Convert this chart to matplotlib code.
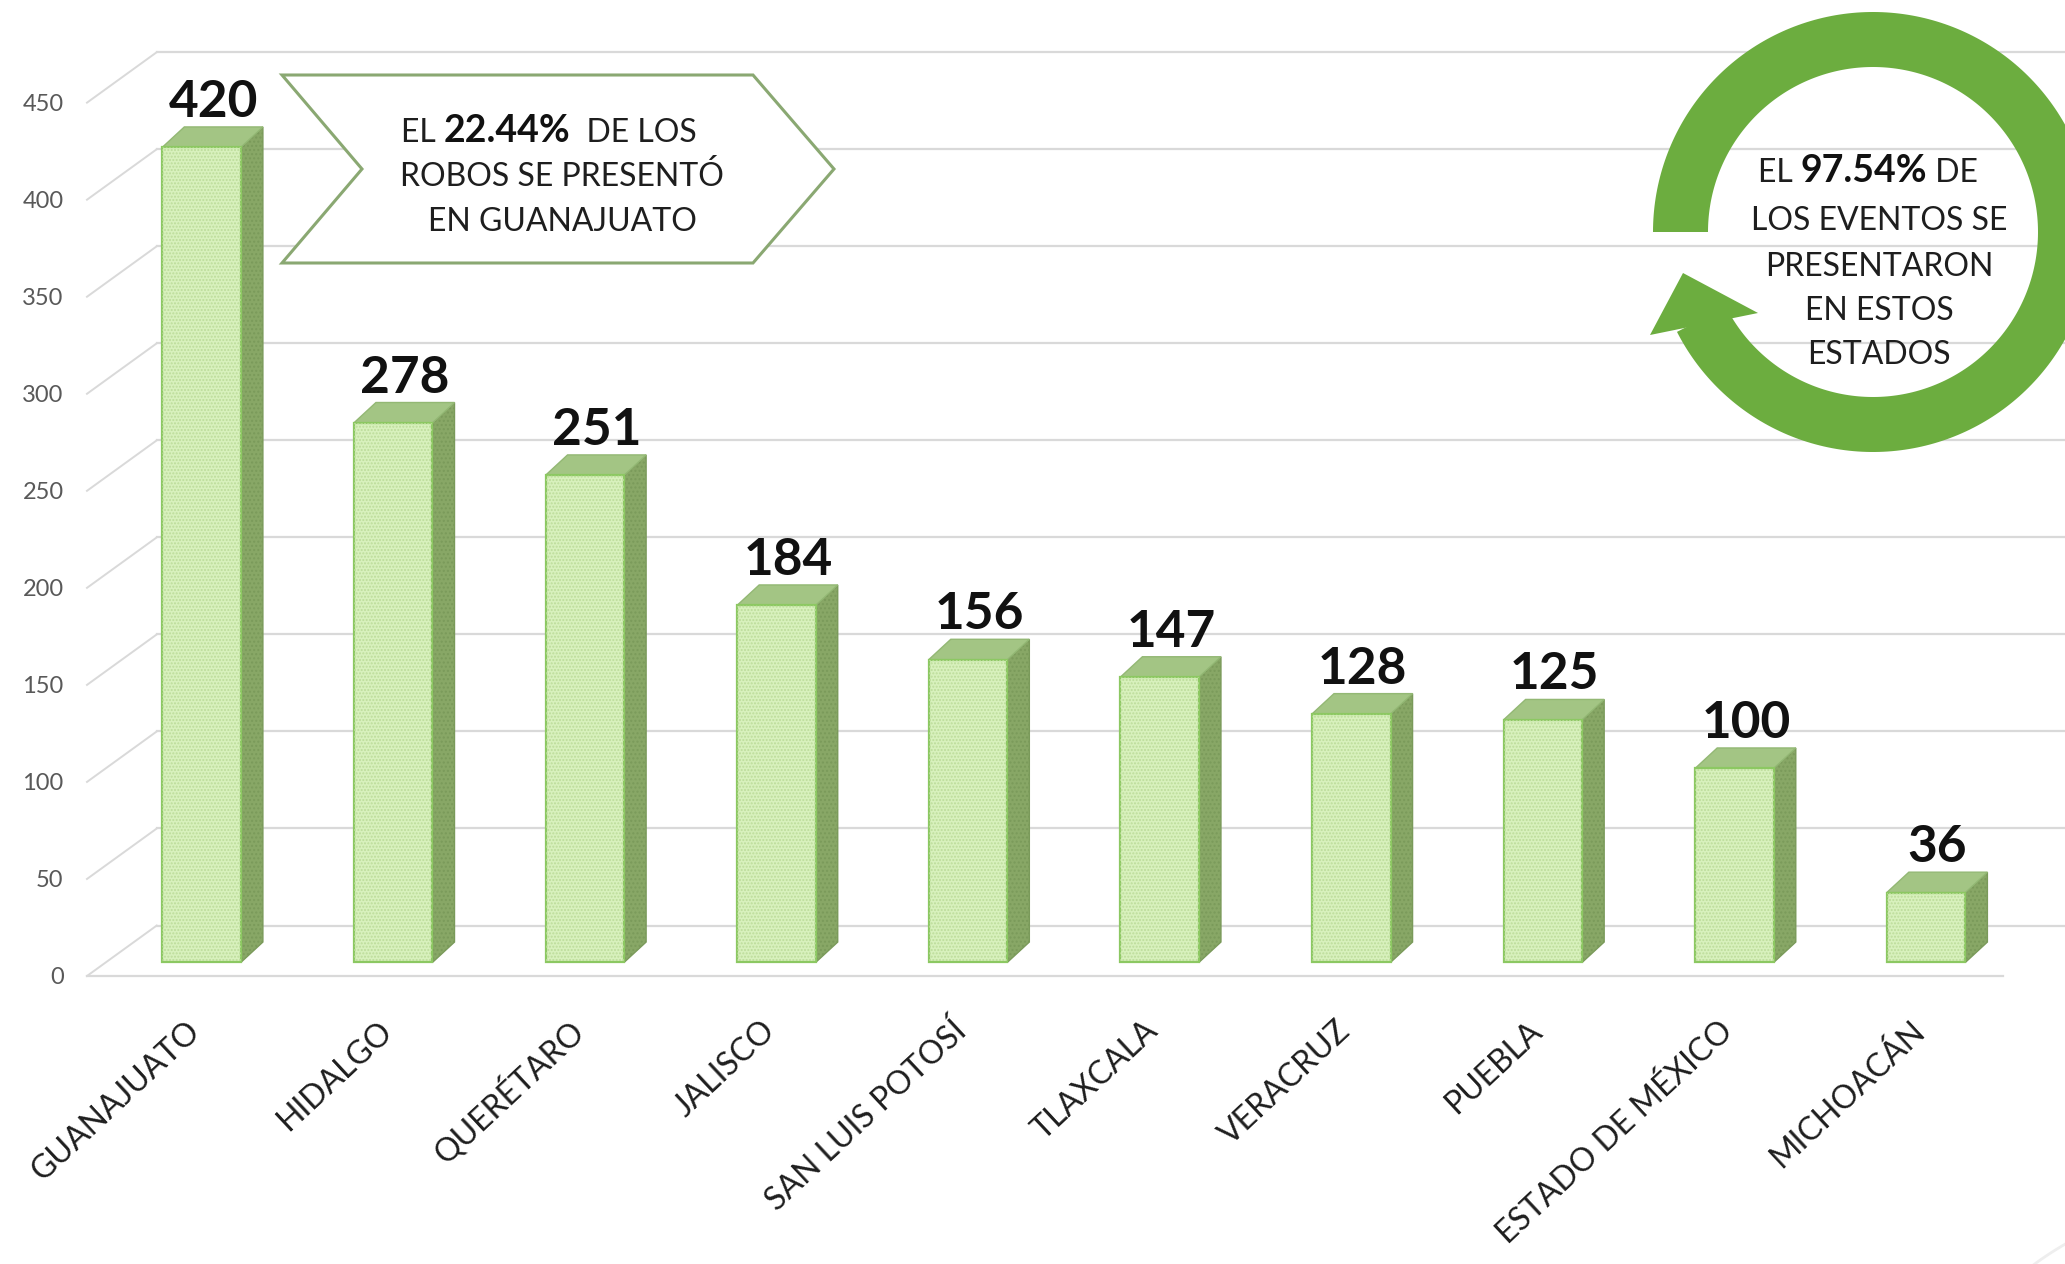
import matplotlib.pyplot as plt
from matplotlib.patches import Polygon
import numpy as np

plt.rcParams['font.family'] = ['Lato', 'DejaVu Sans']
plt.rcParams['hatch.linewidth'] = 1.0

# data
estados = ["GUANAJUATO", "HIDALGO", "QUERÉTARO", "JALISCO", "SAN LUIS POTOSÍ",
           "TLAXCALA", "VERACRUZ", "PUEBLA", "ESTADO DE MÉXICO", "MICHOACÁN"]
robos = [420, 278, 251, 184, 156, 147, 128, 125, 100, 36]
ticks = [0, 50, 100, 150, 200, 250, 300, 350, 400, 450]

W, H = 2065, 1264
fig = plt.figure(figsize=(W / 100, H / 100), dpi=100)
fig.patch.set_facecolor('white')

# main axes, whole figure, data units
ax = fig.add_axes([0, 0, 1, 1])
ax.set_xlim(-1.052, 9.725)
ax.set_ylim(-155.4, 495.9)
ax.axis('off')

grid_c = '#d9d9d9'
# back wall gridlines + left diagonals + y labels
for t in ticks:
    ax.plot([-0.234, 9.8], [t + 19, t + 19], color=grid_c, lw=1.6, zorder=0)
    ax.plot([-0.598, -0.234], [t - 7, t + 19], color=grid_c, lw=1.4, zorder=0)
    ax.text(-0.72, t - 8, str(t), ha='right', va='center', fontsize=17, color='#595959')
# front floor edge
ax.plot([-0.598, 9.4], [-7, -7], color=grid_c, lw=1.6, zorder=0)

# bars (fake 3d)
x = np.arange(len(estados))
w = 0.41
dx, dy = 0.115, 10.5
ax.bar(x, robos, width=w, color='#d8f1bd', edgecolor='#8cc862', linewidth=1.6, zorder=3)
ax.bar(x, robos, width=w, fill=False, hatch='.....', edgecolor='#bcdc9a', linewidth=0, zorder=4)
for xi, v in zip(x, robos):
    l, r = xi - w / 2, xi + w / 2
    side = Polygon([(r, 0), (r + dx, dy), (r + dx, v + dy), (r, v)], closed=True,
                   facecolor='#88a766', edgecolor='#7a9a5a', lw=1, hatch='....', zorder=2)
    top = Polygon([(l, v), (l + dx, v + dy), (r + dx, v + dy), (r, v)], closed=True,
                  facecolor='#a3c584', edgecolor='#93b874', lw=1, zorder=2)
    ax.add_patch(side)
    ax.add_patch(top)
    ax.text(xi + 0.06, v + 11, str(v), ha='center', va='bottom', fontsize=37,
            fontweight='bold', color='#111111')

# category labels
for xi, name in zip(x, estados):
    ax.text(xi - 0.03, -33, name, rotation=43, rotation_mode='anchor',
            ha='right', va='center', fontsize=23, color='#1e1e1e')

# overlay in pixel coords for the callouts
ov = fig.add_axes([0, 0, 1, 1])
ov.set_xlim(0, W)
ov.set_ylim(H, 0)
ov.axis('off')
ov.patch.set_alpha(0)

# chevron callout
chev = Polygon([(282, 75), (753, 75), (834, 169), (753, 263), (282, 263), (362, 169)],
               closed=True, facecolor='white', edgecolor='#8aa872', lw=2.2, zorder=5)
ov.add_patch(chev)
b1 = ov.text(507, 142, "22.44%", fontsize=27, fontweight='bold', ha='center',
             va='baseline', color='#111111', zorder=6)
ov.annotate("EL ", xy=(0, 0), xycoords=b1, ha='right', va='bottom', fontsize=23,
            color='#1e1e1e', zorder=6)
ov.annotate("  DE LOS", xy=(1, 0), xycoords=b1, ha='left', va='bottom', fontsize=23,
            color='#1e1e1e', zorder=6)
ov.text(562, 186, "ROBOS SE PRESENTÓ", fontsize=23, ha='center', va='baseline',
        color='#1e1e1e', zorder=6)
ov.text(562, 231, "EN GUANAJUATO", fontsize=23, ha='center', va='baseline',
        color='#1e1e1e', zorder=6)

# circular arrow
cx, cy = 1873, 232
r_out, r_in = 220, 165
green = '#6cad3f'


def pt(r, a):
    a = np.deg2rad(a)
    return (cx + r * np.cos(a), cy - r * np.sin(a))


ang = np.linspace(180, -153, 300)
ring = [pt(r_out, a) for a in ang] + [pt(r_in, a) for a in ang[::-1]]
ov.add_patch(Polygon(ring, closed=True, facecolor=green, edgecolor='none', zorder=5))
head = [(1650, 335), (1683, 273), (1758, 313)]
ov.add_patch(Polygon(head, closed=True, facecolor=green, edgecolor='none', zorder=5))

b2 = ov.text(1864, 182, "97.54%", fontsize=27, fontweight='bold', ha='center',
             va='baseline', color='#111111', zorder=6)
ov.annotate("EL ", xy=(0, 0), xycoords=b2, ha='right', va='bottom', fontsize=23,
            color='#1e1e1e', zorder=6)
ov.annotate(" DE", xy=(1, 0), xycoords=b2, ha='left', va='bottom', fontsize=23,
            color='#1e1e1e', zorder=6)
for yy, s in zip([230, 276, 320, 364], ["LOS EVENTOS SE", "PRESENTARON", "EN ESTOS", "ESTADOS"]):
    ov.text(1879, yy, s, fontsize=23, ha='center', va='baseline', color='#1e1e1e', zorder=6)

# faint watermark arcs bottom right
for rr in [330, 300]:
    a = np.linspace(100, 170, 100)
    ov.plot([2230 + rr * np.cos(np.deg2rad(t)) for t in a],
            [1530 - rr * np.sin(np.deg2rad(t)) for t in a], color='#eeeeee', lw=2, zorder=0)

fig.savefig('out.png', dpi=100)
